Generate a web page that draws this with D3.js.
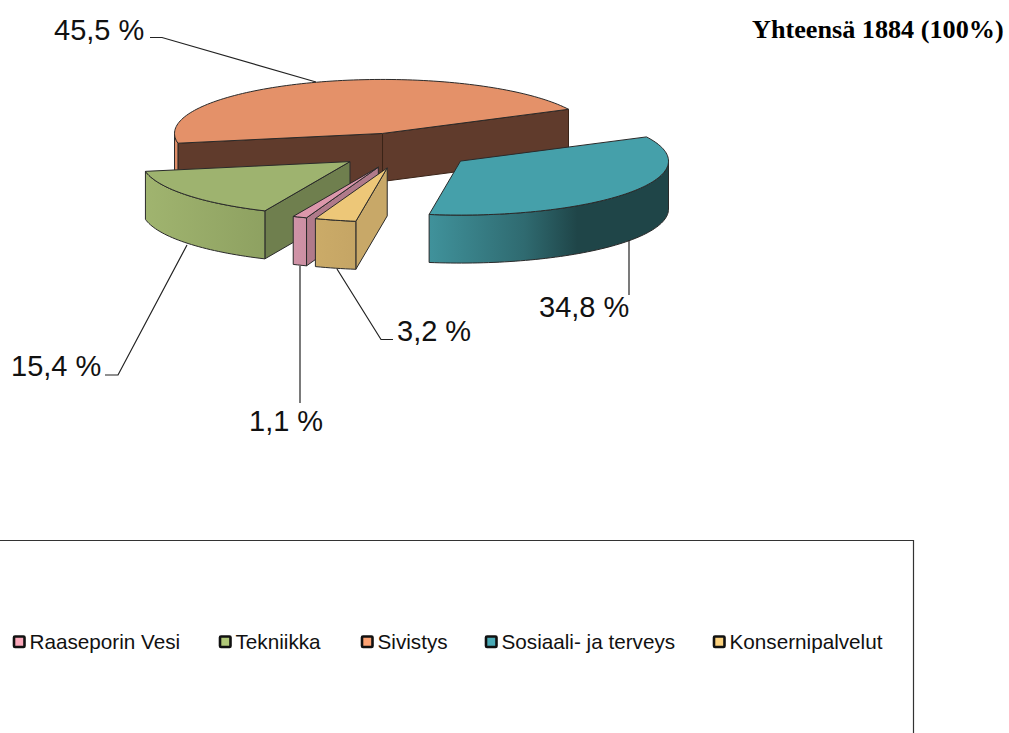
<!DOCTYPE html>
<html><head><meta charset="utf-8">
<script src="https://cdn.jsdelivr.net/npm/d3@7/dist/d3.min.js"></script>
<style>html,body{margin:0;background:#fff;overflow:hidden}svg{display:block}</style>
</head><body><svg id="c" width="1009" height="733"></svg>
<script>
const categories = ["Raaseporin Vesi","Tekniikka","Sivistys","Sosiaali- ja terveys","Konsernipalvelut"];
const values = [1.1,15.4,45.5,34.8,3.2];
const valueLabels = ["1,1 %","15,4 %","45,5 %","34,8 %","3,2 %"];
const legendColors = ["#fba9bb","#b0c878","#fda273","#4aaab6","#fcd27e"];
const topColors = ["#dc97ab","#9eb36f","#e49169","#45a0aa","#edc778"];
const wallColors = ["#b07a8a","#6f7f4e","#603b2c","#1f4548","#c8a868"];
const rimStart = ["#d093a7","#a0b46f","#e08e68","#40929b","#cbab68"];
const rimEnd = ["#cc8fa3","#8ea161","#e08e68","#1f4548","#c5a565"];
const totalTitle = "Yhteensä 1884 (100%)";
const labelPos = [[249,431],[11,376],[54,40],[539,317],[397,341]];
const leaders = [
  [[300,266],[300,403]],
  [[187,245],[118,375],[105,375]],
  [[316,82],[162,37.5],[150,37.5]],
  [[629,240],[629,295]],
  [[337,269],[381,339.5],[393,339.5]]
];
const legendX = [13,219,361,485,713];

const svg = d3.select("#c");
const defs = svg.append("defs");
const rad = Math.PI/180, explode = 0.333, depth = 48;
const sx = d3.scaleLinear([-1,1],[404.5-208,404.5+208]);
const sy = d3.scaleLinear([-1,1],[150.5-54,150.5+54]);
const pie = d3.pie().sort(null).value(d=>d).startAngle(200.2*rad).endAngle(560.2*rad);
const arcs = pie(values);
const line = d3.line().x(d=>d[0]).y(d=>d[1]);
const drawOrder = [2,3,1,0,4];

function angles(a0,a1){
  const n = Math.max(2,Math.ceil((a1-a0)/(1.5*rad)));
  return d3.range(n+1).map(i=>a0+(a1-a0)*i/n);
}
drawOrder.forEach(i=>{
  const d = arcs[i], mid=(d.startAngle+d.endAngle)/2;
  const ux = explode*Math.sin(mid), uy = -explode*Math.cos(mid);
  const P = (a,r=1,z=0)=>[sx(ux+r*Math.sin(a)), sy(uy-r*Math.cos(a))+z];
  const g = svg.append("g").attr("stroke","#2a2a2a").attr("stroke-width",1).attr("stroke-linejoin","round");
  const apex = P(0,0), apexB = P(0,0,depth);
  [[d.startAngle,Math.sin(d.startAngle)<0],[d.endAngle,Math.sin(d.endAngle)>0]].forEach(([a,vis])=>{
    if(!vis) return;
    g.append("path").attr("fill",wallColors[i]).attr("stroke",i===2?"#3a2418":"#2a2a2a")
      .attr("d",line([apex,P(a),P(a,1,depth),apexB])+"Z");
  });
  const near=[];
  [[90,270],[450,630]].forEach(([lo,hi])=>{
    const a0=Math.max(d.startAngle,lo*rad), a1=Math.min(d.endAngle,hi*rad);
    if(a1>a0) near.push([a0,a1]);
  });
  near.forEach(([a0,a1],k)=>{
    const gid=`rim${i}${k}`, pA=P(a0), pB=P(a1);
    const xs=[pA[0],pB[0]];
    const gr=defs.append("linearGradient").attr("id",gid).attr("gradientUnits","userSpaceOnUse")
      .attr("x1",d3.min(xs)).attr("x2",d3.max(xs)).attr("y1",0).attr("y2",0);
    const stops = i===3 ? [[0,"#40929b"],[.4,"#2f6a70"],[.62,"#1f4548"],[1,"#1f4548"]]
                        : [[0,rimStart[i]],[1,rimEnd[i]]];
    stops.forEach(s=>gr.append("stop").attr("offset",s[0]).attr("stop-color",s[1]));
    const as=angles(a0,a1);
    const pts=as.map(a=>P(a)).concat(as.slice().reverse().map(a=>P(a,1,depth)));
    g.append("path").attr("fill",`url(#${gid})`).attr("d",line(pts)+"Z");
  });
  const top=[apex].concat(angles(d.startAngle,d.endAngle).map(a=>P(a)));
  g.append("path").attr("fill",topColors[i]).attr("d",line(top)+"Z");
});

leaders.forEach(l=>svg.append("path").attr("fill","none").attr("stroke","#222").attr("stroke-width",1.2).attr("d",line(l)));
valueLabels.forEach((t,i)=>svg.append("text").attr("x",labelPos[i][0]).attr("y",labelPos[i][1])
  .attr("font-family","'Liberation Sans',Arial,sans-serif").attr("font-size",29).attr("fill","#111").text(t));

svg.append("text").attr("x",752).attr("y",38).attr("font-family","'Liberation Serif','Times New Roman',serif")
  .attr("font-weight","bold").attr("font-size",26.2).attr("fill","#000").text(totalTitle);

svg.append("path").attr("fill","none").attr("stroke","#333").attr("stroke-width",1.2).attr("d","M-2,540.5H913.5V735");
categories.forEach((c,i)=>{
  svg.append("rect").attr("x",legendX[i]+1).attr("y",636.5).attr("width",10.5).attr("height",10.5).attr("rx",1)
    .attr("fill",legendColors[i]).attr("stroke","#111").attr("stroke-width",2.6);
  svg.append("text").attr("x",legendX[i]+16.5).attr("y",648.5)
    .attr("font-family","'Liberation Sans',Arial,sans-serif").attr("font-size",20.7).attr("fill","#111").text(c);
});
</script></body></html>
